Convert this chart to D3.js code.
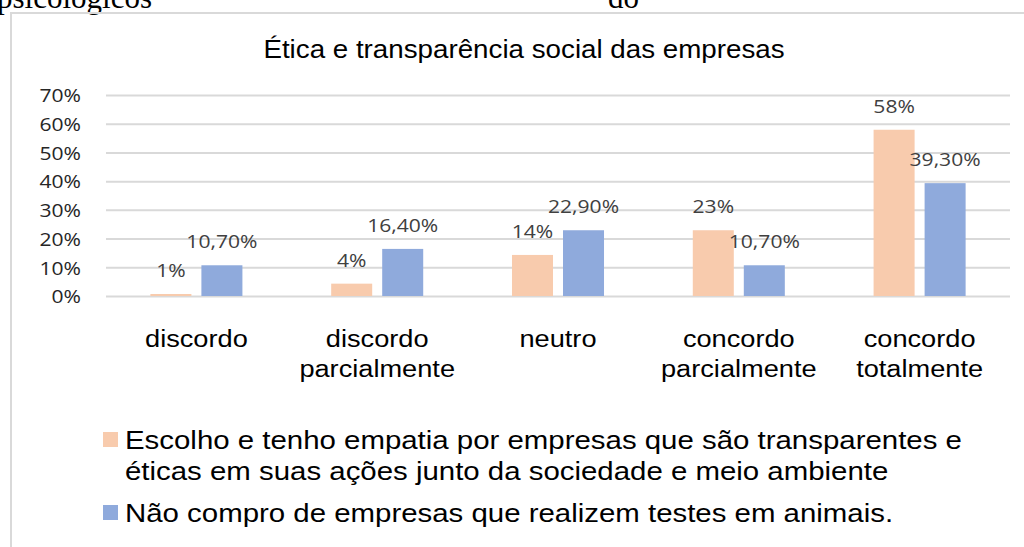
<!DOCTYPE html>
<html>
<head>
<meta charset="utf-8">
<script src="https://cdn.jsdelivr.net/npm/d3@7"></script>
<style>
  html, body { margin: 0; padding: 0; background: #fff; }
  svg { display: block; }
</style>
</head>
<body>
<svg id="chart"></svg>
<script>
// data
const categories = ['discordo', 'discordo parcialmente', 'neutro', 'concordo parcialmente', 'concordo totalmente'];
const seriesNames = [
  'Escolho e tenho empatia por empresas que são transparentes e éticas em suas ações junto da sociedade e meio ambiente',
  'Não compro de empresas que realizem testes em animais.'
];
const empatiaValues = [0.007, 0.043, 0.143, 0.229, 0.579];
const testesValues = [0.107, 0.164, 0.229, 0.107, 0.393];
const yTicks = [0, 0.1, 0.2, 0.3, 0.4, 0.5, 0.6, 0.7];
const titleText = 'Ética e transparência social das empresas';

const colors = ['#F8CBAD', '#8FAADC'];
const stretch = 1.11; // picture is a bit wider than normal type

const W = 1024, H = 547;
const plot = {left: 106, right: 1010, top: 95, bottom: 296};

const svg = d3.select('#chart').attr('width', W).attr('height', H);

// page text cut off at the top, as in the picture
svg.append('text')
    .attr('x', -3).attr('y', 8)
    .style('font-family', '"Liberation Serif", serif')
    .style('font-size', '31px')
    .text('psicológicos');
svg.append('text')
    .attr('x', 608).attr('y', 8)
    .style('font-family', '"Liberation Serif", serif')
    .style('font-size', '31px')
    .text('do');

// chart frame
svg.append('path')
    .attr('d', `M11,${H} V13 H${W}`)
    .attr('fill', 'none')
    .attr('stroke', '#D9D9D9')
    .attr('stroke-width', 2);

const table = categories.map((c, i) => ({cat: c, values: [empatiaValues[i], testesValues[i]]}));

const x0 = d3.scaleBand()
    .domain(categories)
    .range([plot.left, plot.right])
    .paddingInner(0.491)
    .paddingOuter(0.2455);

const x1 = d3.scaleBand()
    .domain([0, 1])
    .range([0, x0.bandwidth()])
    .paddingInner(0.196);

const y = d3.scaleLinear()
    .domain([0, 0.7])
    .range([plot.bottom, plot.top]);

// gridlines + y labels
const yAxis = d3.axisLeft(y)
    .tickValues(yTicks)
    .tickFormat(d3.format('.0%'))
    .tickSize(-(plot.right - plot.left));

const yAxisG = svg.append('g')
    .attr('transform', `translate(${plot.left},0)`)
    .call(yAxis);
yAxisG.select('.domain').remove();
yAxisG.selectAll('.tick line')
    .attr('stroke', '#D9D9D9')
    .attr('stroke-width', 2);
yAxisG.selectAll('.tick text')
    .attr('x', -25 / stretch)
    .attr('dy', '0.36em')
    .attr('transform', `scale(${stretch},1)`)
    .style('font-family', '"Open Sans", sans-serif')
    .style('font-size', '19px')
    .attr('fill', '#262626');

// bars
const groups = svg.selectAll('.group')
    .data(table)
  .join('g')
    .attr('class', 'group')
    .attr('transform', d => `translate(${x0(d.cat)},0)`);

groups.selectAll('rect')
    .data(d => d.values.map((v, s) => ({s, v})))
  .join('rect')
    .attr('x', d => x1(d.s))
    .attr('width', x1.bandwidth())
    .attr('y', d => y(d.v))
    .attr('height', d => y(0) - y(d.v))
    .attr('fill', d => colors[d.s]);

// data labels
const ptBR = d3.formatLocale({decimal: ',', thousands: '.', grouping: [3], currency: ['R$', '']});
const labelFormats = [ptBR.format('.0%'), ptBR.format('.2%')];

groups.selectAll('.value')
    .data(d => d.values.map((v, s) => ({s, v})))
  .join('text')
    .attr('class', 'value')
    .attr('transform', d => `translate(${x1(d.s) + x1.bandwidth() / 2},${y(d.v) - 17}) scale(${stretch},1)`)
    .attr('text-anchor', 'middle')
    .style('font-family', '"Open Sans", sans-serif')
    .style('font-size', '19px')
    .attr('fill', '#404040')
    .text(d => labelFormats[d.s](d.v));

// category labels
svg.selectAll('.cat')
    .data(categories)
  .join('text')
    .attr('class', 'cat')
    .attr('transform', d => `translate(${x0(d) + x0.bandwidth() / 2},347) scale(${stretch},1)`)
    .attr('text-anchor', 'middle')
    .style('font-family', '"Liberation Sans", Arial, sans-serif')
    .style('font-size', '24.5px')
    .attr('fill', '#000')
    .selectAll('tspan')
    .data(d => d.split(' '))
  .join('tspan')
    .attr('x', 0)
    .attr('dy', (d, i) => i ? 30 : 0)
    .text(d => d);

// title
svg.append('text')
    .attr('transform', `translate(524,58) scale(${stretch},1)`)
    .attr('text-anchor', 'middle')
    .style('font-family', '"Liberation Sans", Arial, sans-serif')
    .style('font-size', '25px')
    .attr('fill', '#000')
    .text(titleText);

// legend
const legendX = 103, textX = 125, legendFont = 26.5, maxLine = 850;
let lineY = 449;
seriesNames.forEach((name, s) => {
  svg.append('rect')
      .attr('x', legendX).attr('y', lineY - 17)
      .attr('width', 15).attr('height', 15)
      .attr('fill', colors[s]);
  const t = svg.append('text')
      .attr('transform', `translate(${textX},${lineY}) scale(${stretch},1)`)
      .style('font-family', '"Liberation Sans", Arial, sans-serif')
      .style('font-size', legendFont + 'px')
      .attr('fill', '#000');
  // wrap words to the legend width
  const words = name.split(' ');
  let line = [], tspan = t.append('tspan').attr('x', 0).attr('dy', 0), n = 0;
  words.forEach(w => {
    line.push(w);
    tspan.text(line.join(' '));
    if (tspan.node().getComputedTextLength() * stretch > maxLine && line.length > 1) {
      line.pop();
      tspan.text(line.join(' '));
      line = [w];
      tspan = t.append('tspan').attr('x', 0).attr('dy', 31).text(w);
      n++;
    }
  });
  lineY += 31 * n + 42;
});
</script>
</body>
</html>
